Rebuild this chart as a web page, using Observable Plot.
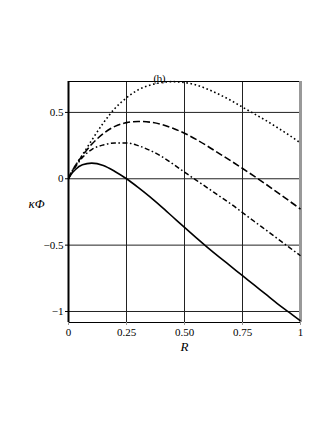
<!DOCTYPE html>
<html>
<head>
<meta charset="utf-8">
<script src="https://cdn.jsdelivr.net/npm/d3@7"></script>
<script src="https://cdn.jsdelivr.net/npm/@observablehq/plot@0.6"></script>
<style>
  html, body { margin: 0; padding: 0; background: #fff; }
  #chart { width: 327px; height: 423px; }
</style>
</head>
<body>
<div id="chart"></div>
<script>
const R = [0, 0.01, 0.03, 0.06, 0.1, 0.15, 0.2, 0.25, 0.3, 0.35, 0.4, 0.45, 0.5, 0.55, 0.6, 0.65, 0.7, 0.75, 0.8, 0.85, 0.9, 0.95, 1];
const solidSeries   = [0, 0.03, 0.07, 0.105, 0.118, 0.1, 0.055, 0.0, -0.065, -0.135, -0.21, -0.288, -0.366, -0.443, -0.518, -0.59, -0.66, -0.73, -0.8, -0.87, -0.94, -1.005, -1.07];
const dashedSeries  = [0, 0.04, 0.1, 0.175, 0.26, 0.34, 0.395, 0.423, 0.432, 0.427, 0.41, 0.38, 0.343, 0.297, 0.245, 0.19, 0.135, 0.078, 0.02, -0.04, -0.102, -0.165, -0.228];
const dashDotSeries = [0, 0.035, 0.09, 0.16, 0.22, 0.255, 0.27, 0.27, 0.25, 0.215, 0.17, 0.112, 0.05, -0.01, -0.07, -0.13, -0.19, -0.255, -0.32, -0.385, -0.45, -0.515, -0.58];
const dottedSeries  = [0, 0.04, 0.1, 0.18, 0.29, 0.42, 0.53, 0.61, 0.67, 0.705, 0.725, 0.732, 0.725, 0.707, 0.675, 0.635, 0.59, 0.54, 0.49, 0.44, 0.386, 0.33, 0.27];

const xTicks = [0, 0.25, 0.5, 0.75, 1];
const xTickLabels = ["0", "0.25", "0.50", "0.75", "1"];
const yTicks = [-1, -0.5, 0, 0.5];
const yTickLabels = ["\u22121", "\u22120.5", "0", "0.5"];
const panelLabel = "(b)";
const xLabel = "R";
const yLabel = "\u03baΦ";

const toRows = vals => R.map((r, i) => ({R: r, v: vals[i]}));
const lineStyle = {x: "R", y: "v", stroke: "#000", curve: "monotone-x", strokeLinecap: "butt"};

const chart = Plot.plot({
  width: 327,
  height: 423,
  marginLeft: 68,
  marginRight: 27,
  marginTop: 81,
  marginBottom: 101,
  style: {fontFamily: "'Liberation Serif', 'Times New Roman', serif", fontSize: "11px", background: "#fff", color: "#000"},
  x: {domain: [0, 1], label: null},
  y: {domain: [-1.083, 0.733], label: null},
  marks: [
    Plot.ruleX([0.25, 0.5, 0.75], {stroke: "#222", strokeWidth: 1}),
    Plot.ruleY(yTicks, {stroke: "#222", strokeWidth: 1}),
    Plot.frame({stroke: "#000", strokeWidth: 1}),
    Plot.ruleX([0], {stroke: "#000", strokeWidth: 2}),
    Plot.ruleX([1], {stroke: "#999", strokeWidth: 3}),
    Plot.line(toRows(dottedSeries), {...lineStyle, strokeWidth: 1.6, strokeDasharray: "1.6,2.6"}),
    Plot.line(toRows(dashedSeries), {...lineStyle, strokeWidth: 1.6, strokeDasharray: "7,3"}),
    Plot.line(toRows(dashDotSeries), {...lineStyle, strokeWidth: 1.5, strokeDasharray: "5,2.5,1.6,2.5"}),
    Plot.line(toRows(solidSeries), {...lineStyle, strokeWidth: 1.6}),
    Plot.axisX({ticks: xTicks, tickFormat: d => xTickLabels[xTicks.indexOf(d)], tickSize: 3, tickPadding: 3, label: null, stroke: "#999", fontSize: 11}),
    Plot.axisY({ticks: yTicks, tickFormat: d => yTickLabels[yTicks.indexOf(d)], tickSize: 3, tickPadding: 2, label: null, fontSize: 11}),
    Plot.text([panelLabel], {frameAnchor: "top", dx: -25, dy: -7, fontSize: 10.5, text: d => d}),
    Plot.text([xLabel], {frameAnchor: "bottom", dy: 28, fontSize: 13, fontStyle: "italic", text: d => d}),
    Plot.text([yLabel], {frameAnchor: "left", dx: -40, dy: 2, fontSize: 13, fontStyle: "italic", text: d => d})
  ]
});
document.getElementById("chart").appendChild(chart);
</script>
</body>
</html>
